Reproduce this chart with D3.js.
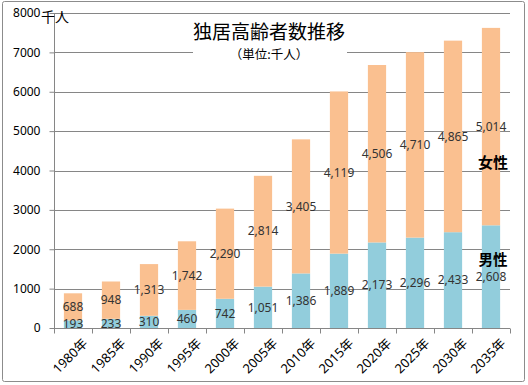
<!DOCTYPE html>
<html><head><meta charset="utf-8">
<script src="https://cdn.jsdelivr.net/npm/d3@7"></script>
<style>body{margin:0;background:#fff}svg{display:block}</style>
</head><body>
<svg id="c" width="528" height="385"></svg>
<script>
const categories = ["1980年","1985年","1990年","1995年","2000年","2005年","2010年","2015年","2020年","2025年","2030年","2035年"];
const male = [193,233,310,460,742,1051,1386,1889,2173,2296,2433,2608];
const female = [688,948,1313,1742,2290,2814,3405,4119,4506,4710,4865,5014];
const yTicks = [0,1000,2000,3000,4000,5000,6000,7000,8000];
const title = "独居高齢者数推移";
const subtitle = "（単位:千人）";
const unit = "千人";
const seriesNames = ["男性","女性"];

(function(){
const svg = d3.select("#c");
const pLeft = 54, pRight = 510, pTop = 13, pBottom = 328;
const font = "'Noto Sans', 'Noto Sans CJK JP', sans-serif";
const cjk = "'Noto Sans CJK JP', sans-serif";

svg.append("rect").attr("x",2.5).attr("y",1.5).attr("width",522).attr("height",380)
  .attr("fill","#fff").attr("stroke","#8c8c8c").attr("stroke-width",1).attr("rx",2);

const x = d3.scaleBand().domain(categories).range([pLeft,pRight]).paddingInner(0.52).paddingOuter(0.26);
const xStep = d3.scaleBand().domain(categories).range([pLeft,pRight]);
const y = d3.scaleLinear().domain([0,8000]).range([pBottom,pTop]);

// grid
svg.append("g").selectAll("line").data(yTicks.slice(1)).join("line")
  .attr("x1",pLeft).attr("x2",pRight)
  .attr("y1",d=>Math.round(y(d))+0.5).attr("y2",d=>Math.round(y(d))+0.5)
  .attr("stroke","#868686").attr("stroke-width",1);

// stacked data
const rows = categories.map((c,i)=>({cat:c, male:male[i], female:female[i]}));
const stack = d3.stack().keys(["male","female"])(rows);
const colors = {male:"#92CDDC", female:"#FAC090"};

svg.append("g").selectAll("g").data(stack).join("g")
  .attr("fill",d=>colors[d.key])
  .selectAll("rect").data(d=>d).join("rect")
  .attr("x",d=>x(d.data.cat)).attr("width",x.bandwidth())
  .attr("y",d=>y(d[1])).attr("height",d=>y(d[0])-y(d[1]));

// title box (covers grid)
svg.append("rect").attr("x",193).attr("y",19).attr("width",154).attr("height",44).attr("fill","#fff");
svg.append("text").attr("x",269).attr("y",38.5).attr("text-anchor","middle")
  .attr("font-family",cjk).attr("font-size",19).attr("fill","#000").text(title);
svg.append("text").attr("x",269).attr("y",58.5).attr("text-anchor","middle")
  .attr("font-family",cjk).attr("font-size",12.5).attr("fill","#000").text(subtitle);

// axes
const yAxis = d3.axisLeft(y).tickValues(yTicks).tickSize(5).tickPadding(9).tickFormat(d3.format("d"));
const gy = svg.append("g").attr("transform",`translate(${pLeft+0.5},0)`).call(yAxis);
gy.select(".domain").attr("stroke","#868686").attr("d",`M0,${pTop}V${pBottom}`);
gy.selectAll(".tick line").attr("stroke","#868686");
gy.selectAll("text").attr("font-family",font).attr("font-size",12).attr("fill","#000");

svg.append("text").attr("x",41).attr("y",pTop+9).attr("font-family",cjk).attr("font-size",14)
  .attr("fill","#000").text(unit);

const gx = svg.append("g").attr("transform",`translate(0,${pBottom+0.5})`);
gx.append("line").attr("x1",pLeft).attr("x2",pRight).attr("stroke","#868686");
gx.selectAll("line.t").data(categories.concat(["end"])).join("line").attr("class","t")
  .attr("x1",(d,i)=>Math.round(pLeft+i*xStep.step())+0.5).attr("x2",(d,i)=>Math.round(pLeft+i*xStep.step())+0.5)
  .attr("y1",0).attr("y2",5).attr("stroke","#868686");
gx.selectAll("text").data(categories).join("text")
  .attr("transform",d=>`translate(${x(d)+x.bandwidth()/2+9},${9}) rotate(-45)`)
  .attr("text-anchor","end").attr("dy","0.7em")
  .attr("font-family",font).attr("font-size",13).attr("fill","#000").text(d=>d);

// value labels
const fmt = d3.format(",");
const lbl = svg.append("g").attr("font-family",font).attr("font-size",12).attr("fill","#333").attr("text-anchor","middle");
stack.forEach(s=>{
  lbl.append("g").selectAll("text").data(s).join("text")
    .attr("x",d=>x(d.data.cat)+x.bandwidth()/2)
    .attr("y",d=>(y(d[0])+y(d[1]))/2)
    .attr("dy","0.35em")
    .text(d=>fmt(d[1]-d[0]));
});

// series labels
svg.append("text").attr("x",493).attr("y",163).attr("dy","0.35em").attr("text-anchor","middle")
  .attr("font-family",cjk).attr("font-size",15).attr("font-weight","bold").attr("fill","#000").text(seriesNames[1]);
svg.append("text").attr("x",493).attr("y",260).attr("dy","0.35em").attr("text-anchor","middle")
  .attr("font-family",cjk).attr("font-size",14.5).attr("font-weight","bold").attr("fill","#000").text(seriesNames[0]);
})();
</script>
</body></html>
